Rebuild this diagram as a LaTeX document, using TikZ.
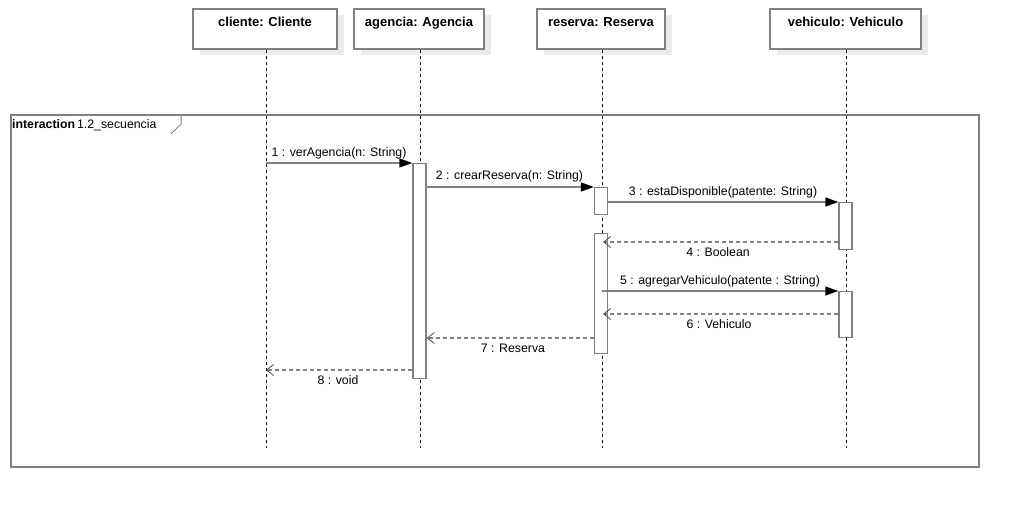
\documentclass[tikz,border=0pt]{standalone}
\usepackage{fontspec}
\setmainfont{Liberation Sans}
\usetikzlibrary{arrows.meta,shadows}
\definecolor{lg}{HTML}{808080}
\definecolor{sh}{HTML}{EBEBEB}
\begin{document}
\begin{tikzpicture}[x=1pt,y=-1pt,
  hdr/.style={draw=lg,line width=1.3pt,fill=white,minimum height=40pt,inner sep=0pt,
    general shadow={fill=sh,shadow xshift=7pt,shadow yshift=-6pt}},
  hdrtxt/.style={font=\bfseries\fontsize{13}{15}\selectfont,anchor=north,inner sep=0pt},
  life/.style={draw=black,line width=0.8pt,dash pattern=on 3pt off 3pt},
  act/.style={draw=lg,line width=1.4pt,fill=white,minimum width=13pt,inner sep=0pt,anchor=north},
  msg/.style={draw=lg,line width=1.4pt,-{Triangle[length=13pt,width=9pt,fill=black,color=black]}},
  ret/.style={draw=lg,line width=1.4pt,dash pattern=on 4pt off 3pt,-{Straight Barb[length=7pt,width=11pt,color=black!70,line width=0.8pt]}},
  lbl/.style={font=\fontsize{12.3}{14}\selectfont,inner sep=0pt}
]
\useasboundingbox[fill=white] (0,0) rectangle (1018,506);

% frame
\node[draw=lg,line width=2pt,minimum width=968pt,minimum height=352pt,anchor=north west,inner sep=0pt] (fr) at (10,114) {};
\draw[lg,line width=1pt] (fr.north west) ++(171,0) -- ++(0,-10pt) -- ++(-10pt,-10pt);
\node[anchor=west,inner sep=0pt,font=\fontsize{12.3}{14}\selectfont] (frl) at (12,125) {\textbf{interaction}\,1.2\_secuencia};

% headers
\node[hdr,minimum width=144pt] (cl) at (265,29) {};
\node[hdr,minimum width=130pt] (ag) at (419,29) {};
\node[hdr,minimum width=128pt] (re) at (601,29) {};
\node[hdr,minimum width=151pt] (ve) at (845.5,29) {};
\node[hdrtxt] (clt) at (265,17) {cliente: Cliente};
\node[hdrtxt] (agt) at (419,17) {agencia: Agencia};
\node[hdrtxt] (ret) at (601,17) {reserva: Reserva};
\node[hdrtxt] (vet) at (845.5,17) {vehiculo: Vehiculo};

% lifeline ends
\coordinate (clE) at (266,448);
\coordinate (agE) at (420,448);
\coordinate (reE) at (602,448);
\coordinate (veE) at (846,448);
\draw[life] (cl.south -| clE) -- (clE);
\draw[life] (ag.south -| agE) -- (agE);
\draw[life] (re.south -| reE) -- (reE);
\draw[life] (ve.south -| veE) -- (veE);

% activations
\node[act,minimum height=215pt] (a1) at (419.5,163) {};
\node[act,minimum height=27pt] (r1) at (601,187) {};
\node[act,minimum height=120pt] (r2) at (601,233) {};
\node[act,minimum height=47pt] (v1) at (845.5,202) {};
\node[act,minimum height=46pt] (v2) at (845.5,291) {};

% message endpoints
\coordinate (m1s) at (266,163);
\coordinate (m4e) at (603,242);
\coordinate (m5s) at (602,291);
\coordinate (m6e) at (603,314);
\coordinate (m8e) at (266,370);

\draw[msg] (m1s) -- (a1.north west);
\draw[msg] (a1.east |- r1.north) -- (r1.north west);
\draw[msg] (r1.east |- v1.north) -- (v1.north west);
\draw[ret] (v1.west |- m4e) -- (m4e);
\draw[msg] (m5s) -- (v2.north west);
\draw[ret] (v2.west |- m6e) -- (m6e);
\draw[ret] (r2.west |- 0,338) -- (a1.east |- 0,338);
\draw[ret] (a1.west |- m8e) -- (m8e);

% labels
\node[lbl] (l1) at (339,153) {1 : verAgencia(n: String)};
\node[lbl] (l2) at (509.5,176) {2 : crearReserva(n: String)};
\node[lbl] (l3) at (723,192) {3 : estaDisponible(patente: String)};
\node[lbl] (l4) at (718,252) {4 : Boolean};
\node[lbl] (l5) at (720,281) {5 : agregarVehiculo(patente : String)};
\node[lbl] (l6) at (719,324) {6 : Vehiculo};
\node[lbl] (l7) at (513,348) {7 : Reserva};
\node[lbl] (l8) at (338,380) {8 : void};
\end{tikzpicture}
\end{document}
